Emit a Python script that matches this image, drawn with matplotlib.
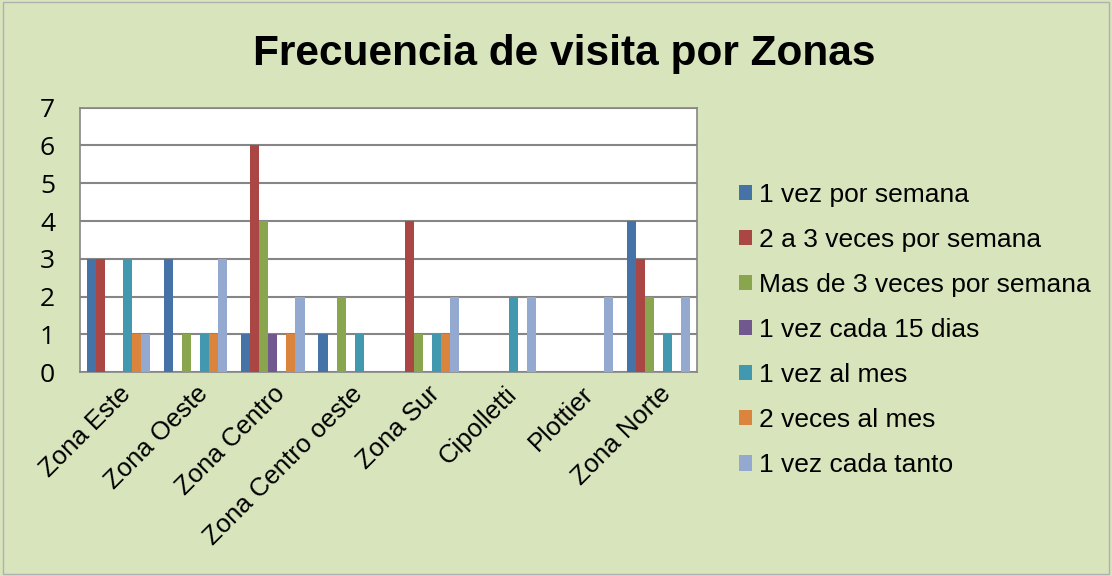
import numpy as np
import matplotlib
matplotlib.use("Agg")
import matplotlib.pyplot as plt

zonas = ["Zona Este", "Zona Oeste", "Zona Centro", "Zona Centro oeste",
         "Zona Sur", "Cipolletti", "Plottier", "Zona Norte"]
series = ["1 vez por semana", "2 a 3 veces por semana", "Mas de 3 veces por semana",
          "1 vez cada 15 dias", "1 vez al mes", "2 veces al mes", "1 vez cada tanto"]

una_semana = [3, 3, 1, 1, 0, 0, 0, 4]
dos_tres_semana = [3, 0, 6, 0, 4, 0, 0, 3]
mas_tres_semana = [0, 1, 4, 2, 1, 0, 0, 2]
cada_15 = [0, 0, 1, 0, 0, 0, 0, 0]
una_mes = [3, 1, 0, 1, 1, 2, 0, 1]
dos_mes = [1, 1, 1, 0, 1, 0, 0, 0]
cada_tanto = [1, 3, 2, 0, 2, 2, 2, 2]

values = [una_semana, dos_tres_semana, mas_tres_semana, cada_15, una_mes, dos_mes, cada_tanto]
colors = ["#4572A7", "#AA4643", "#89A54E", "#71588F", "#4198AF", "#DB843D", "#93A9CF"]

bg = "#D8E4BC"
fig = plt.figure(figsize=(11.12, 5.76), dpi=100, facecolor=bg)
ax = fig.add_axes([0.072, 0.354, 0.555, 0.459])
ax.set_facecolor("white")

x = np.arange(len(zonas))
w = 0.117
for i, (name, vals, c) in enumerate(zip(series, values, colors)):
    ax.bar(x - 3 * w + i * w, vals, w, color=c, label=name, zorder=3)

ax.set_xlim(-0.5, len(zonas) - 0.5)
ax.set_ylim(0, 7)
ax.set_yticks(range(0, 8))
ax.yaxis.grid(True, color="#868686", linewidth=1.5, zorder=0)
for s in ax.spines.values():
    s.set_color("#868686")
    s.set_linewidth(1.2)
ax.tick_params(axis="y", length=0, labelsize=19, pad=18)
ax.tick_params(axis="x", length=0, pad=7)
ax.set_xticks(x)
ax.set_xticklabels(zonas, rotation=45, ha="right", rotation_mode="anchor",
                   family="Liberation Sans", fontsize=18.5)
for lab in ax.get_yticklabels():
    lab.set_family("Open Sans")

fig.text(0.507, 0.907, "Frecuencia de visita por Zonas", ha="center", va="center",
         fontsize=30.5, fontweight="bold", family="Liberation Sans")

leg = fig.legend(loc="center left", bbox_to_anchor=(0.643, 0.427), frameon=False,
                 prop={"family": "Liberation Sans", "size": 19},
                 handlelength=0.5, handleheight=0.5, handletextpad=0.25, labelspacing=0.8)

fig.patches.append(plt.Rectangle((0.003, 0.004), 0.994, 0.992, transform=fig.transFigure,
                                 fill=False, edgecolor="#B0B0B0", linewidth=1))
fig.savefig("out.png", dpi=100, facecolor=bg)
